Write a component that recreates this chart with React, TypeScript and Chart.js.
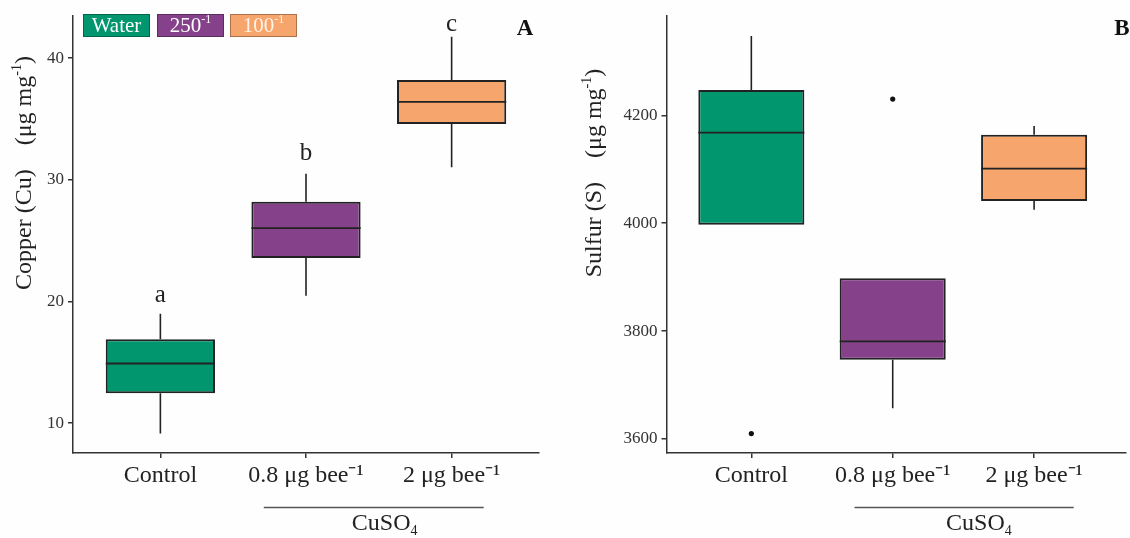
import React, { useEffect, useRef } from "react";
import { Chart, registerables } from "chart.js";

Chart.register(...registerables);

// ---------------- data ----------------
const categories = ["Control", "0.8 μg bee⁻¹", "2 μg bee⁻¹"];
const boxColors = ["#01966d", "#85428a", "#f6a56c"];

// Panel A: Copper (Cu)
const cuWhiskerLow = [9.15, 20.46, 31.04];
const cuQ1 = [12.46, 23.57, 34.58];
const cuMedian = [14.9, 26.03, 36.41];
const cuQ3 = [16.9, 28.2, 38.2];
const cuWhiskerHigh = [18.98, 30.5, 41.77];
const cuOutliers: number[][] = [[], [], []];
const cuLetters = ["a", "b", "c"];
const cuLetterY = [20.5, 32.2, 42.8];
const cuTicks = [10, 20, 30, 40];

// Panel B: Sulfur (S)
const sWhiskerLow = [3997, 3657, 4025];
const sQ1 = [3997, 3747, 4041];
const sMedian = [4168, 3781, 4101];
const sQ3 = [4247, 3898, 4164];
const sWhiskerHigh = [4347, 3898, 4180];
const sOutliers: number[][] = [[3610], [4230], []];
const sTicks = [3600, 3800, 4000, 4200];

const legendLabels = ["Water", "250", "100"];
const legendSups = ["", "-1", "-1"];
const legendTextColors = ["#ffffff", "#ffffff", "#fff3e8"];

// ---------------- styling ----------------
const FONT = "'Liberation Serif', 'Times New Roman', serif";
const BOX_WIDTH = 0.75;
const LINE = "#222222";
const AXIS = "#333333";
const H = 538;

type Seg = { t: string; sup?: boolean; sub?: boolean };

function drawRich(
  ctx: CanvasRenderingContext2D,
  segs: Seg[],
  x: number,
  y: number,
  size: number,
  color: string,
  bold = false
) {
  const small = Math.round(size * 0.58);
  const fontOf = (s: Seg) =>
    `${bold ? "bold " : ""}${s.sup || s.sub ? small : size}px ${FONT}`;
  let total = 0;
  const widths = segs.map((s) => {
    ctx.font = fontOf(s);
    const w = ctx.measureText(s.t).width;
    total += w;
    return w;
  });
  let cx = x - total / 2;
  ctx.fillStyle = color;
  ctx.textBaseline = "middle";
  ctx.textAlign = "left";
  segs.forEach((s, i) => {
    ctx.font = fontOf(s);
    const dy = s.sup ? -size * 0.33 : s.sub ? size * 0.3 : 0;
    ctx.fillText(s.t, cx, y + dy);
    cx += widths[i];
  });
}

type PanelCfg = {
  width: number;
  chartLeft: number;
  chartRight: number;
  top: number;
  bottom: number;
  xMax: number;
  yMin: number;
  yMax: number;
  ticks: number[];
  wlo: number[];
  q1: number[];
  med: number[];
  q3: number[];
  whi: number[];
  outliers: number[][];
  title: string;
  titleX: number;
  titleY: number;
  panelLabel: string;
  panelLabelX: number;
  letters?: string[];
  letterY?: number[];
  legend?: boolean;
  bracket: [number, number];
  bracketText: number;
};

const panelA: PanelCfg = {
  width: 560,
  chartLeft: 73,
  chartRight: 539,
  top: 16,
  bottom: 453,
  xMax: 3.6,
  yMin: 7.54,
  yMax: 43.47,
  ticks: cuTicks,
  wlo: cuWhiskerLow,
  q1: cuQ1,
  med: cuMedian,
  q3: cuQ3,
  whi: cuWhiskerHigh,
  outliers: cuOutliers,
  title: "Copper (Cu)",
  titleX: 25,
  titleY: 173,
  panelLabel: "A",
  panelLabelX: 525,
  letters: cuLetters,
  letterY: cuLetterY,
  legend: true,
  bracket: [1.71, 3.22],
  bracketText: 2.54,
};

const panelB: PanelCfg = {
  width: 570,
  chartLeft: 106.5,
  chartRight: 568,
  top: 16,
  bottom: 453,
  xMax: 3.65,
  yMin: 3574,
  yMax: 4384,
  ticks: sTicks,
  wlo: sWhiskerLow,
  q1: sQ1,
  med: sMedian,
  q3: sQ3,
  whi: sWhiskerHigh,
  outliers: sOutliers,
  title: "Sulfur (S)",
  titleX: 35,
  titleY: 173,
  panelLabel: "B",
  panelLabelX: 562,
  bracket: [1.73, 3.28],
  bracketText: 2.61,
};

function buildChart(canvas: HTMLCanvasElement, p: PanelCfg) {
  const datasets: any[] = [];
  datasets.push({
    type: "bar",
    data: categories.map((_, i) => ({ x: i + 1, y: [p.q1[i], p.q3[i]] })),
    backgroundColor: boxColors,
    borderColor: LINE,
    borderWidth: 2,
    borderSkipped: false,
    barPercentage: BOX_WIDTH,
    categoryPercentage: 1,
    order: 3,
  });
  categories.forEach((_, i) => {
    datasets.push({
      type: "line",
      data: [
        { x: i + 1, y: p.wlo[i] },
        { x: i + 1, y: p.q1[i] },
        { x: i + 1, y: null },
        { x: i + 1, y: p.q3[i] },
        { x: i + 1, y: p.whi[i] },
      ],
      borderColor: LINE,
      borderWidth: 1.6,
      pointRadius: 0,
      spanGaps: false,
      fill: false,
      order: 2,
    });
    datasets.push({
      type: "line",
      data: [
        { x: i + 1 - BOX_WIDTH / 2, y: p.med[i] },
        { x: i + 1 + BOX_WIDTH / 2, y: p.med[i] },
      ],
      borderColor: LINE,
      borderWidth: 1.8,
      pointRadius: 0,
      fill: false,
      order: 1,
    });
  });
  datasets.push({
    type: "scatter",
    data: p.outliers.flatMap((arr, i) => arr.map((v) => ({ x: i + 1, y: v }))),
    pointRadius: 2.6,
    backgroundColor: "#111",
    borderWidth: 0,
    order: 0,
  });

  const annot = {
    id: "annot",
    afterDraw(chart: any) {
      const ctx: CanvasRenderingContext2D = chart.ctx;
      const xs = chart.scales.x;
      const ys = chart.scales.y;
      ctx.save();
      // y title
      ctx.save();
      ctx.translate(p.titleX, p.titleY);
      ctx.rotate(-Math.PI / 2);
      drawRich(
        ctx,
        [{ t: p.title + "    (μg mg" }, { t: "-1", sup: true }, { t: ")" }],
        0,
        0,
        24,
        "#222"
      );
      ctx.restore();
      // significance letters
      if (p.letters && p.letterY) {
        p.letters.forEach((l, i) => {
          drawRich(
            ctx,
            [{ t: l }],
            xs.getPixelForValue(i + 1),
            ys.getPixelForValue(p.letterY![i]),
            25,
            "#222"
          );
        });
      }
      // panel label
      drawRich(ctx, [{ t: p.panelLabel }], p.panelLabelX, 29, 23, "#111", true);
      // legend
      if (p.legend) {
        const lx = [83, 157, 230];
        legendLabels.forEach((lab, i) => {
          ctx.fillStyle = boxColors[i];
          ctx.fillRect(lx[i], 14, 67, 23);
          ctx.strokeStyle = "rgba(0,0,0,0.3)";
          ctx.lineWidth = 1;
          ctx.strokeRect(lx[i] + 0.5, 14.5, 66, 22);
          const segs: Seg[] = [{ t: lab }];
          if (legendSups[i]) segs.push({ t: legendSups[i], sup: true });
          drawRich(ctx, segs, lx[i] + 33.5, 26.5, 21, legendTextColors[i]);
        });
      }
      // CuSO4 bracket
      const bx0 = xs.getPixelForValue(p.bracket[0]);
      const bx1 = xs.getPixelForValue(p.bracket[1]);
      ctx.strokeStyle = "#555";
      ctx.lineWidth = 1.5;
      ctx.beginPath();
      ctx.moveTo(bx0, 507.5);
      ctx.lineTo(bx1, 507.5);
      ctx.stroke();
      drawRich(
        ctx,
        [{ t: "CuSO" }, { t: "4", sub: true }],
        xs.getPixelForValue(p.bracketText),
        524,
        24,
        "#222"
      );
      ctx.restore();
    },
  };

  const gridCfg = {
    display: true,
    drawOnChartArea: false,
    drawTicks: true,
    tickLength: 5,
    color: AXIS,
    lineWidth: 1.5,
    offset: false,
  };
  const borderCfg = { display: true, color: AXIS, width: 1.5 };

  return new Chart(canvas, {
    type: "bar",
    data: { datasets },
    plugins: [annot],
    options: {
      responsive: false,
      animation: false,
      devicePixelRatio: 1,
      layout: {
        padding: { left: 0, top: p.top, right: p.width - p.chartRight, bottom: 0 },
      },
      plugins: { legend: { display: false }, tooltip: { enabled: false } },
      scales: {
        x: {
          type: "linear",
          min: 0.4,
          max: p.xMax,
          offset: false,
          afterBuildTicks: (s: any) => {
            s.ticks = categories.map((_, i) => ({ value: i + 1 }));
          },
          afterFit: (s: any) => {
            s.height = H - p.bottom;
          },
          ticks: {
            callback: (_v: any, idx: number) => categories[idx],
            font: { family: FONT, size: 24 },
            color: "#222",
            padding: 3,
            autoSkip: false,
            minRotation: 0,
            maxRotation: 0,
          },
          grid: gridCfg,
          border: borderCfg,
        },
        y: {
          type: "linear",
          min: p.yMin,
          max: p.yMax,
          afterBuildTicks: (s: any) => {
            s.ticks = p.ticks.map((v) => ({ value: v }));
          },
          afterFit: (s: any) => {
            s.width = p.chartLeft;
          },
          ticks: {
            callback: (v: any) => String(v),
            font: { family: FONT, size: 17 },
            color: "#333",
            padding: 4,
          },
          grid: gridCfg,
          border: borderCfg,
        },
      },
    } as any,
  });
}

function Panel({ cfg, left }: { cfg: PanelCfg; left: number }) {
  const ref = useRef<HTMLCanvasElement>(null);
  useEffect(() => {
    if (!ref.current) return;
    const chart = buildChart(ref.current, cfg);
    return () => chart.destroy();
  }, [cfg]);
  return (
    <canvas
      ref={ref}
      width={cfg.width}
      height={H}
      style={{ position: "absolute", left, top: 0, width: cfg.width, height: H }}
    />
  );
}

export default function App() {
  return (
    <div
      style={{
        position: "absolute",
        left: 0,
        top: 0,
        width: 1130,
        height: H,
        background: "#fefefe",
        overflow: "hidden",
      }}
    >
      <Panel cfg={panelA} left={0} />
      <Panel cfg={panelB} left={560} />
    </div>
  );
}
